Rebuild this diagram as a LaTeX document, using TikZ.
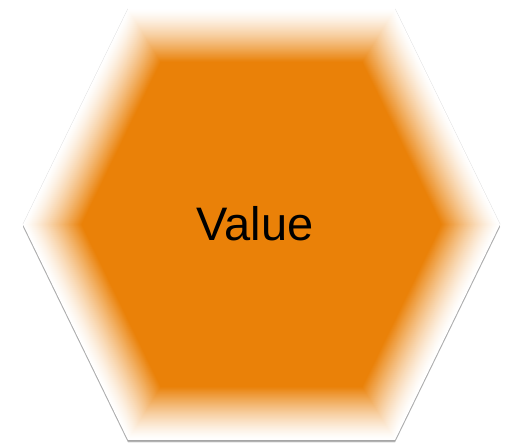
\documentclass[tikz,border=0pt]{standalone}
\usepackage{fontspec}
\setmainfont{Liberation Sans}
\definecolor{hexor}{RGB}{234,129,8}
\definecolor{hexshadow}{RGB}{150,150,150}
\tikzset{
  valuetext/.style={font=\fontsize{47}{56}\selectfont, text=black, inner sep=0pt},
  faintedge/.style={draw=hexshadow!30, line width=0.9pt}
}
\newcommand{\hexshape}{(-133.5,215.5) -- (133.5,215.5) -- (238.5,0) -- (133.5,-215.5) -- (-133.5,-215.5) -- (-238.5,0) -- cycle}
\begin{document}
\begin{tikzpicture}[x=1pt,y=1pt]
\useasboundingbox (0,0) rectangle (510,443);
% faint outline on the slanted upper edges
\begin{scope}[shift={(261.5,218.5)}]
  \path[faintedge] (133.5,215.5) -- (238.5,0);
  \path[faintedge] (-133.5,215.5) -- (-238.5,0);
\end{scope}
% shadow below
\begin{scope}[shift={(261.5,216.0)}]
  \fill[hexshadow!50] \hexshape;
\end{scope}
\begin{scope}[shift={(261.5,216.8)}]
  \fill[hexshadow!85] \hexshape;
\end{scope}
% soft-edged hexagon
\foreach \i in {0,...,60}{
  \pgfmathsetmacro{\hs}{1-0.245*\i/60}
  \pgfmathsetmacro{\ht}{100*(\i/60)^1.35}
  \begin{scope}[shift={(261.5,218.5)}, scale=\hs]
    \fill[hexor!\ht!white] \hexshape;
  \end{scope}
}
\node[valuetext] (val) at (255,219) {Value};
\end{tikzpicture}
\end{document}
